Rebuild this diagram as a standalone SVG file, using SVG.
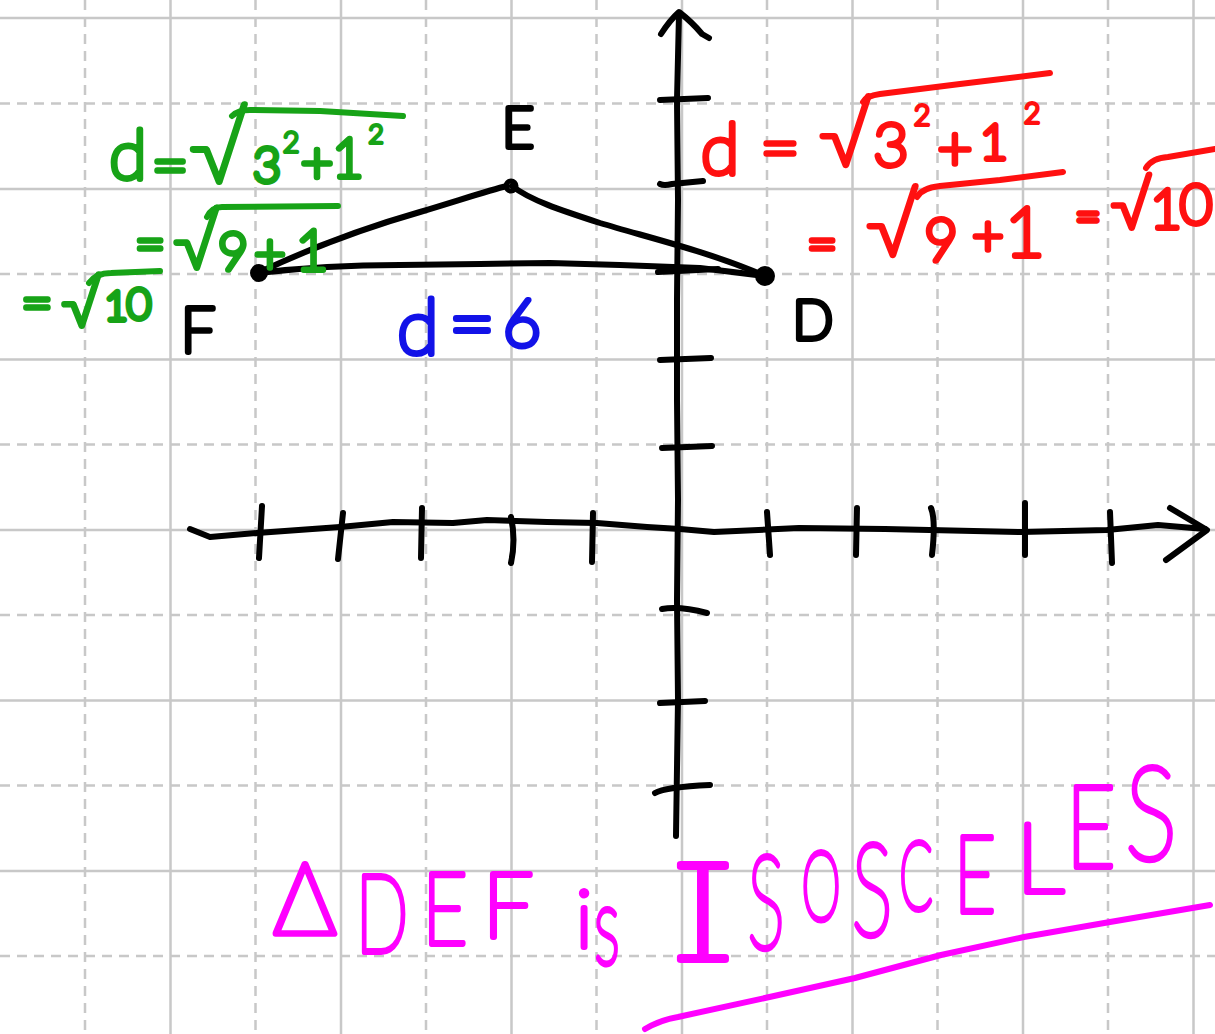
<svg xmlns="http://www.w3.org/2000/svg" width="1215" height="1034" viewBox="0 0 1215 1034">
<style>
.gs{stroke:#c8c8c8;stroke-width:2.5;fill:none}
.gd{stroke:#c8c8c8;stroke-width:2.5;fill:none;stroke-dasharray:10 7}
.ink{fill:none;stroke-width:6;stroke-linecap:round;stroke-linejoin:round}
.t{font-family:Lato,'DejaVu Sans',sans-serif;font-weight:100;stroke-width:6;stroke-linejoin:round;stroke-linecap:round;text-anchor:middle}
.sm{stroke-width:4}
.g{fill:#17a317;stroke:#17a317}
.r{fill:#ff1010;stroke:#ff1010}
.b{fill:#1212e8;stroke:#1212e8}
.k{fill:#000;stroke:#000}
.m{fill:#ff00ff;stroke:#ff00ff}
.gl{stroke:#17a317}.rl{stroke:#ff1010}.ml{stroke:#ff00ff}.kl{stroke:#000}
</style>
<rect width="1215" height="1034" fill="#fff"/>
<g id="grid">
<path class="gd" d="M85,0V1034M255.5,0V1034M426,0V1034M596.5,0V1034M767,0V1034M937.5,0V1034M1108,0V1034M0,103.5H1215M0,274H1215M0,444.5H1215M0,615H1215M0,785.5H1215M0,956H1215"/>
<path class="gs" d="M170.5,0V1034M341,0V1034M511.5,0V1034M682,0V1034M852.5,0V1034M1023,0V1034M1193.5,0V1034M0,18H1215M0,189H1215M0,359.5H1215M0,530H1215M0,700.5H1215M0,871H1215"/>
</g>
<g id="axes" class="ink kl">
<path d="M676,836 L678,700 L677,600 L678,500 L677,400 L677,300 L678,200 L677,100 L679,14"/>
<path d="M661,34 Q670,20 679,12 Q692,22 702,34 L709,38"/>
<path d="M660,100 L708,98 M660,184 Q664,186 672,184 L703,181 M658,272 L718,269 M660,360 L711,358 M662,448 L712,446 M662,609 Q680,606 707,613 M660,703 L705,701 M655,793 Q665,787 710,785"/>
<path d="M190,529 L210,537 L257,533 L340,527 L393,522 L453,523 L487,520 L547,522 L597,523 L647,527 L680,529 L714,532 L799,528 L885,529 L1021,532 L1107,530 L1158,525 L1205,529"/>
<path d="M1170,508 L1207,530 L1166,560"/>
<path d="M262,506 L259,558 M343,513 L338,559 M422,508 L421,558 M511,517 Q516,540 511,563 M593,513 L592,562 M767,512 L770,555 M857,508 L856,555 M931,508 Q936,520 932,555 M1025,503 L1025,555 M1110,512 L1112,563"/>
</g>
<g id="triangle" class="ink kl">
<path d="M258,273 C300,253 350,232 420,212 C460,200 490,190 507,186"/>
<path d="M512,186 C530,200 560,210 600,223 C650,238 710,252 765,276"/>
<path d="M258,273 C300,268 350,265 400,265 L480,264 L550,263 L620,265 L700,268 L765,276"/>
<circle cx="259" cy="273" r="6" fill="#000"/>
<circle cx="511" cy="186" r="5" fill="none" stroke-width="5"/>
<circle cx="765" cy="276" r="7" fill="#000"/>
</g>
<g id="labels">
<text class="t k" x="518" y="147" font-size="55">E</text>
<text class="t k" x="198" y="352" font-size="61">F</text>
<text class="t k" x="813" y="339" font-size="53">D</text>
</g>
<g id="green-work">
<text class="t g" x="128" y="179" font-size="68">d</text>
<text class="t g" x="170" y="188" font-size="64">=</text>
<text class="t g" x="218" y="182" font-size="90">√</text>
<text class="t g" x="267" y="182" font-size="48">3</text>
<text class="t g sm" x="291" y="152" font-size="28">2</text>
<text class="t g" x="317" y="182" font-size="56">+</text>
<text class="t g" x="348" y="177" font-size="54">1</text>
<text class="t g sm" x="376" y="143" font-size="26">2</text>
<path class="ink gl" d="M232,116 Q238,110 250,110 L320,111 L403,116"/>
<text class="t g" x="150" y="262" font-size="52">=</text>
<text class="t g" x="196" y="268" font-size="70">√</text>
<text class="t g" x="233" y="270" font-size="52">9</text>
<text class="t g" x="270" y="273" font-size="54">+</text>
<text class="t g" x="312" y="270" font-size="56">1</text>
<path class="ink gl" d="M207,217 Q212,207 222,207 L338,206"/>
<text class="t g" x="37" y="322" font-size="54">=</text>
<text class="t g" x="81" y="326" font-size="60">√</text>
<text class="t g" x="116" y="320" font-size="40">1</text>
<text class="t g" x="139" y="319" font-size="42">0</text>
<path class="ink gl" d="M89,283 Q96,273 111,273 L160,271"/>
</g>
<g id="red-work">
<text class="t r" x="720" y="174" font-size="70">d</text>
<text class="t r" x="780" y="172" font-size="68">=</text>
<text class="t r" x="845" y="165" font-size="80">√</text>
<text class="t r" x="891" y="166" font-size="60">3</text>
<text class="t r sm" x="922" y="125" font-size="28">2</text>
<text class="t r" x="955" y="170" font-size="60">+</text>
<text class="t r" x="994" y="159" font-size="48">1</text>
<text class="t r sm" x="1032" y="123" font-size="28">2</text>
<path class="ink rl" d="M863,102 Q866,96 880,94 L960,84 L1050,73"/>
<text class="t r" x="822" y="262" font-size="52">=</text>
<text class="t r" x="892" y="255" font-size="80">√</text>
<text class="t r" x="941" y="260" font-size="58">9</text>
<text class="t r" x="988" y="255" font-size="54">+</text>
<text class="t r" x="1025" y="256" font-size="68">1</text>
<path class="ink rl" d="M917,197 Q922,188 940,186 L1000,180 L1063,172"/>
<text class="t r" x="1088" y="232" font-size="44">=</text>
<text class="t r" x="1131" y="228" font-size="62">√</text>
<text class="t r" x="1166" y="228" font-size="54">1</text>
<text class="t r" x="1196" y="224" font-size="56">0</text>
<path class="ink rl" d="M1146,168 Q1152,158 1168,157 L1215,149"/>
</g>
<g id="blue-work">
<text class="t b" x="418" y="354" font-size="76">d</text>
<text class="t b" x="472" y="352" font-size="80">=</text>
<text class="t b" x="522" y="346" font-size="66">6</text>
</g>
<g id="conclusion">
<text class="t m" x="305" y="934" font-size="100">Δ</text>
<text class="t m" transform="translate(382,952) scale(0.64,1)" font-size="108">D</text>
<text class="t m" transform="translate(445,944) scale(0.78,1)" font-size="100">E</text>
<text class="t m" x="508" y="937" font-size="90">F</text>
<text class="t m" x="584" y="947" font-size="80">i</text>
<text class="t m" transform="translate(607,964) scale(0.55,1)" font-size="110">s</text>
<text class="t m" transform="translate(703,960) scale(1.3,1)" font-size="132" style="font-family:Inter,Lato,sans-serif;font-feature-settings:'cv08' 1">I</text>
<text class="t m" transform="translate(766,949) scale(0.54,1)" font-size="130">S</text>
<text class="t m" transform="translate(821,920) scale(0.52,1)" font-size="96">O</text>
<text class="t m" transform="translate(872,935) scale(0.6,1)" font-size="128">S</text>
<text class="t m" transform="translate(916,909) scale(0.52,1)" font-size="94">C</text>
<text class="t m" transform="translate(975,912) scale(0.68,1)" font-size="106">E</text>
<text class="t m" x="1040" y="892" font-size="96">L</text>
<text class="t m" transform="translate(1091,867) scale(0.75,1)" font-size="114">E</text>
<text class="t m" transform="translate(1151,860) scale(0.75,1)" font-size="130">S</text>
<path class="ink ml" d="M645,1029 Q660,1020 678,1017 L765,998 L855,978 L941,955 L1024,937 L1110,922 L1210,905"/>
</g>
</svg>
